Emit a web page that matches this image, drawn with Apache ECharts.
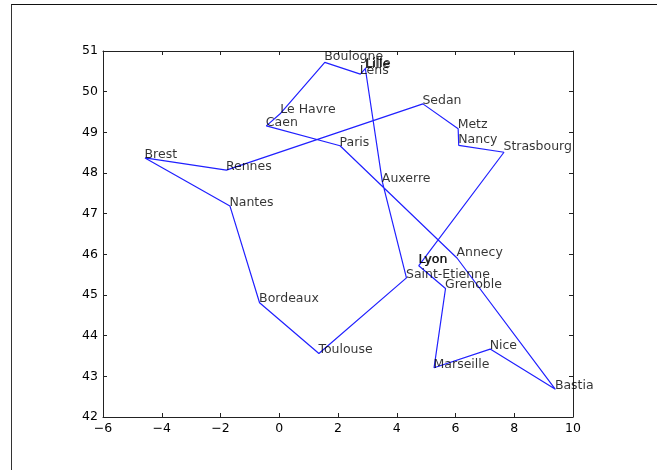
<!DOCTYPE html>
<html>

<head>
    <title>Tour de France</title>
    <meta charset="utf-8">
    <script type="text/javascript" src="https://cdn.jsdelivr.net/npm/echarts@6/dist/echarts.min.js"></script>
    <style>
    html, body {
        margin: 0;
        background: #fff;
    }

    .frame {
        position: absolute;
        left: 11px;
        top: 4px;
        right: 0;
        bottom: 0;
        border-left: 1px solid #333;
        border-top: 1px solid #111;
    }

    .main {
        position: absolute;
        left: 0;
        top: 0;
        width: 657px;
        height: 470px;
    }
    </style>
</head>

<body>
    <div class="frame"></div>
    <div id="main" class="main"></div>
    <script type="text/javascript">
    //tour order, closed on Lille; Lyon is listed twice in the source picture
    const cities = ['Lille', 'Auxerre', 'Saint-Etienne', 'Toulouse', 'Bordeaux', 'Nantes', 'Brest', 'Rennes',
        'Sedan', 'Metz', 'Nancy', 'Strasbourg', 'Lyon', 'Lyon', 'Grenoble', 'Marseille', 'Nice', 'Bastia',
        'Annecy', 'Paris', 'Caen', 'Le Havre', 'Boulogne', 'Lens', 'Lille'];
    const lon = [2.93, 3.51, 4.33, 1.35, -0.67, -1.68, -4.57, -1.8,
        4.89, 6.09, 6.11, 7.65, 4.75, 4.77, 5.66, 5.27, 7.18, 9.4,
        6.05, 2.07, -0.44, 0.05, 1.55, 2.76, 2.96];
    const lat = [50.57, 47.78, 45.42, 43.56, 44.81, 47.19, 48.37, 48.07,
        49.7, 49.09, 48.68, 48.51, 45.72, 45.74, 45.16, 43.21, 43.67, 42.68,
        45.91, 48.67, 49.16, 49.47, 50.72, 50.43, 50.59];
    const xTicks = [-6, -4, -2, 0, 2, 4, 6, 8, 10];
    const yTicks = [42, 43, 44, 45, 46, 47, 48, 49, 50, 51];

    const points = cities.map(function(name, i) {
        return { name: name, value: [lon[i], lat[i]] };
    });
    //names with a descender sit on their descent, so they are drawn a bit higher
    const labelPoints = points.map(function(p) {
        return {
            name: p.name,
            value: p.value,
            label: { position: [-0.5, /[gjpqy]/.test(p.name) ? 1 : 3] }
        };
    });
    const axisLine = { show: true, onZero: false, lineStyle: { color: '#222', width: 1 } };
    const axisTick = { show: true, inside: true, length: 4, lineStyle: { color: '#222', width: 1 } };
    const font = 'DejaVu Sans';

    const myChart = echarts.init(document.getElementById('main'));
    myChart.setOption({
        animation: false,
        grid: { left: 103, top: 51, width: 470, height: 366 },
        xAxis: [{
            type: 'value',
            min: xTicks[0],
            max: xTicks[xTicks.length - 1],
            interval: 2,
            position: 'bottom',
            axisLine: axisLine,
            axisTick: axisTick,
            splitLine: { show: false },
            axisLabel: {
                color: '#000',
                fontFamily: font,
                fontSize: 12.5,
                margin: 5,
                showMinLabel: true,
                showMaxLabel: true,
                formatter: function(v) {
                    return String(v).replace('-', '\u2212');
                }
            }
        }, {
            type: 'value',
            min: xTicks[0],
            max: xTicks[xTicks.length - 1],
            interval: 2,
            position: 'top',
            axisLine: axisLine,
            axisTick: axisTick,
            splitLine: { show: false },
            axisLabel: { show: false }
        }],
        yAxis: [{
            type: 'value',
            min: yTicks[0],
            max: yTicks[yTicks.length - 1],
            interval: 1,
            position: 'left',
            axisLine: axisLine,
            axisTick: axisTick,
            splitLine: { show: false },
            axisLabel: {
                color: '#000',
                fontFamily: font,
                fontSize: 12.5,
                margin: 5,
                showMinLabel: true,
                showMaxLabel: true
            }
        }, {
            type: 'value',
            min: yTicks[0],
            max: yTicks[yTicks.length - 1],
            interval: 1,
            position: 'right',
            axisLine: axisLine,
            axisTick: axisTick,
            splitLine: { show: false },
            axisLabel: { show: false }
        }],
        series: [{
            type: 'line',
            data: points,
            symbol: 'none',
            lineStyle: { color: '#2020ff', width: 1.2 },
            z: 2
        }, {
            type: 'scatter',
            data: labelPoints,
            symbolSize: 0,
            z: 3,
            labelLayout: { hideOverlap: false },
            label: {
                show: true,
                align: 'left',
                verticalAlign: 'bottom',
                distance: 0,
                color: '#000',
                fontFamily: font,
                fontSize: 12.5,
                formatter: '{b}'
            }
        }]
    });
    </script>
</body>

</html>
